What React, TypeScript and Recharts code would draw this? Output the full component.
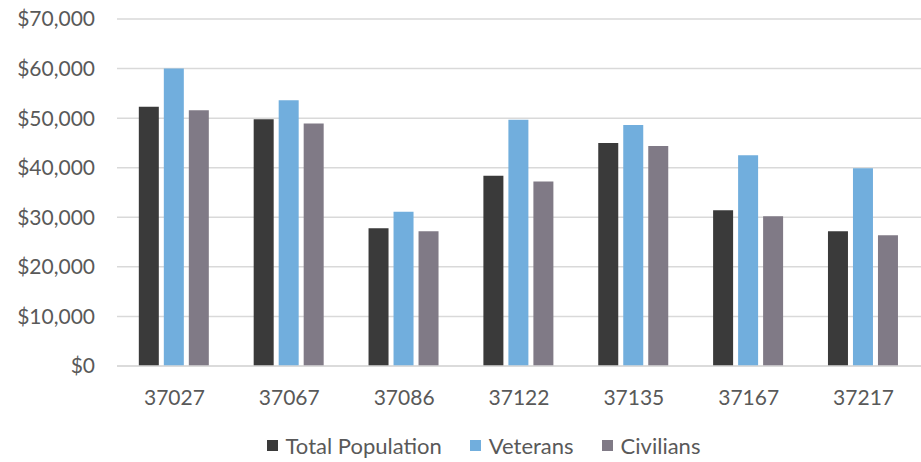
import { Bar, BarChart, CartesianGrid, Legend, XAxis, YAxis } from "recharts";

const zipCodes = ["37027", "37067", "37086", "37122", "37135", "37167", "37217"];
const totalPopulation = [52300, 49800, 27800, 38400, 45000, 31400, 27200];
const veterans = [60000, 53600, 31100, 49700, 48600, 42500, 39900];
const civilians = [51600, 48900, 27200, 37200, 44400, 30200, 26400];
const yTicks = [0, 10000, 20000, 30000, 40000, 50000, 60000, 70000];

const data = zipCodes.map((zip, i) => ({
  zip,
  total: totalPopulation[i],
  veterans: veterans[i],
  civilians: civilians[i],
}));

const series = [
  { key: "total", name: "Total Population", color: "#3a3a3a" },
  { key: "veterans", name: "Veterans", color: "#71aedd" },
  { key: "civilians", name: "Civilians", color: "#807a86" },
];

const font = "Lato, 'Open Sans', sans-serif";
const textColor = "#595959";

function LegendBox() {
  return (
    <div style={{ display: "flex", justifyContent: "center", alignItems: "center", fontFamily: font, fontSize: 22, color: textColor, paddingLeft: 74, paddingTop: 16 }}>
      {series.map((s) => (
        <div key={s.key} style={{ display: "flex", alignItems: "center", marginRight: 28 }}>
          <span style={{ display: "inline-block", width: 11, height: 11, background: s.color, marginRight: 8 }} />
          <span>{s.name}</span>
        </div>
      ))}
    </div>
  );
}

export default function App() {
  return (
    <div style={{ position: "absolute", left: 0, top: 0, width: 921, height: 462, background: "#fff" }}>
      <BarChart width={921} height={462} data={data} margin={{ top: 19, right: 0, bottom: 0, left: 0 }} barCategoryGap="19%" barGap={5}>
        <CartesianGrid stroke="#d9d9d9" strokeWidth={1.5} vertical={false} />
        <XAxis
          dataKey="zip"
          height={50}
          tickLine={false}
          axisLine={{ stroke: "#d9d9d9", strokeWidth: 1.5 }}
          tickSize={0}
          tickMargin={24}
          tick={{ fill: textColor, fontSize: 21, fontFamily: font }}
        />
        <YAxis
          width={117}
          domain={[0, 70000]}
          ticks={yTicks}
          tickLine={false}
          axisLine={false}
          tickSize={0}
          tickMargin={22}
          tick={{ fill: textColor, fontSize: 21, fontFamily: font }}
          tickFormatter={(v: number) => "$" + v.toLocaleString("en-US")}
        />
        <Legend verticalAlign="bottom" height={46} content={() => <LegendBox />} />
        {series.map((s) => (
          <Bar key={s.key} dataKey={s.key} name={s.name} fill={s.color} isAnimationActive={false} />
        ))}
      </BarChart>
    </div>
  );
}
